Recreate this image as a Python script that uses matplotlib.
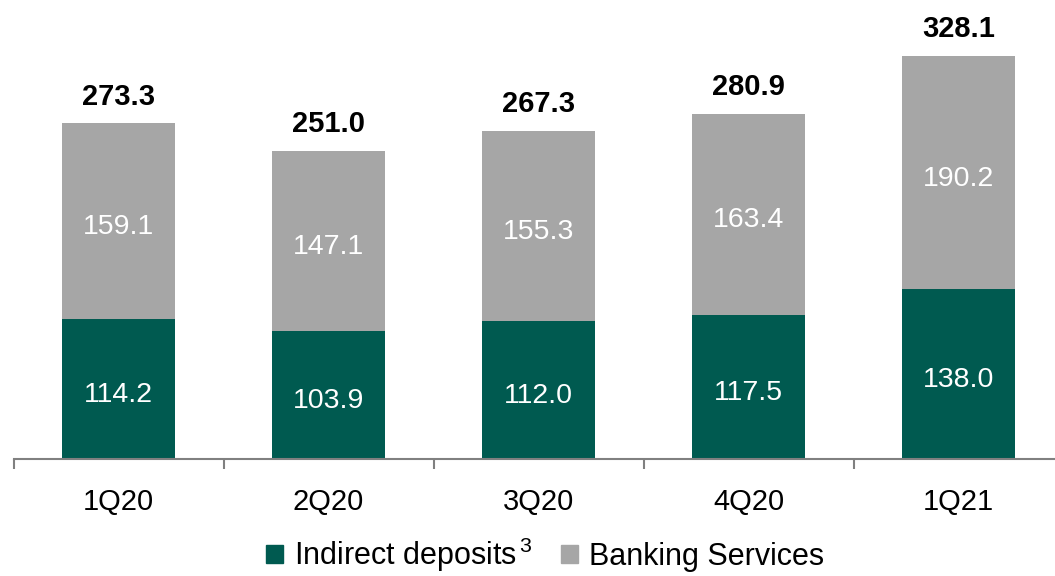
import matplotlib
matplotlib.use("Agg")
import matplotlib.pyplot as plt
from matplotlib.patches import Patch
import numpy as np

plt.rcParams['font.family'] = ['Liberation Sans', 'DejaVu Sans']
plt.rcParams['mathtext.fontset'] = 'custom'
plt.rcParams['mathtext.rm'] = 'Liberation Sans'
plt.rcParams['mathtext.it'] = 'Liberation Sans'

quarters = ["1Q20", "2Q20", "3Q20", "4Q20", "1Q21"]
indirect_deposits = [114.2, 103.9, 112.0, 117.5, 138.0]
banking_services = [159.1, 147.1, 155.3, 163.4, 190.2]
totals = [273.3, 251.0, 267.3, 280.9, 328.1]

green = "#005A50"
gray = "#A6A6A6"

fig = plt.figure(figsize=(10.55, 5.76), dpi=100)
ax = fig.add_axes([13.5 / 1055, 1 - 459 / 576, 1050 / 1055, 459 / 576])

x = np.arange(len(quarters))
w = 0.54
ax.bar(x, indirect_deposits, width=w, color=green)
ax.bar(x, banking_services, width=w, bottom=indirect_deposits, color=gray)

for i in range(len(quarters)):
    ax.annotate(f"{indirect_deposits[i]:.1f}", (x[i], indirect_deposits[i] / 2),
                xytext=(0, -4.5), textcoords="offset points",
                ha="center", va="center", color="white", fontsize=20.5)
    ax.annotate(f"{banking_services[i]:.1f}",
                (x[i], indirect_deposits[i] + banking_services[i] / 2),
                xytext=(0, -4.5), textcoords="offset points",
                ha="center", va="center", color="white", fontsize=20.5)
    ax.annotate(f"{totals[i]:.1f}", (x[i], totals[i]), xytext=(0, 9),
                textcoords="offset points", ha="center", va="bottom",
                fontsize=21, fontweight="bold", color="black")

ax.set_xlim(-0.5, 4.5)
ax.set_ylim(0, 373.5)
ax.set_yticks([])
for s in ["top", "right", "left"]:
    ax.spines[s].set_visible(False)
ax.spines["bottom"].set_color("#808080")
ax.spines["bottom"].set_linewidth(1.5)

ax.set_xticks(x)
ax.set_xticklabels(quarters, fontsize=21)
ax.tick_params(axis="x", which="major", length=0, pad=21)
ax.set_xticks(np.arange(-0.5, 5.0, 1.0), minor=True)
ax.tick_params(axis="x", which="minor", length=7, width=1.5, color="#808080")

handles = [Patch(color=green), Patch(color=gray)]
labels = ["Indirect deposits$^{\\,3}$", "Banking Services"]
fig.legend(handles, labels, loc="lower center",
           bbox_to_anchor=(545 / 1055, -0.044),
           ncol=2, frameon=False, fontsize=22, handlelength=0.55,
           handleheight=0.55, handletextpad=0.35, columnspacing=0.95)

fig.savefig("out.png", dpi=100)
